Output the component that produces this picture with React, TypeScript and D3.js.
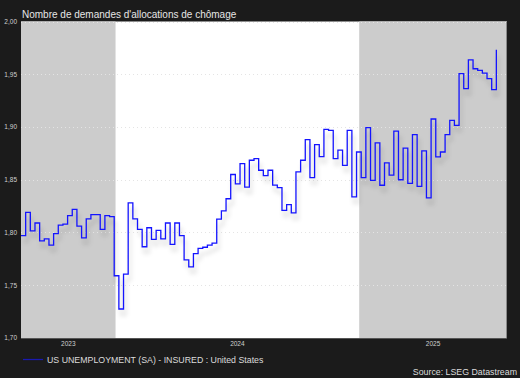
import React from "react";
import * as d3 from "d3";

const title = "Nombre de demandes d'allocations de chômage";
const legendLabel = "US UNEMPLOYMENT (SA) - INSURED : United States";
const sourceLabel = "Source: LSEG Datastream";

const startDate = "2023-08-12";
const domainStart = "2023-08-12";
const domainEnd = "2025-08-11";

// weekly values (millions), from the first week (Aug 2023) to the last (late Jul 2025)
const insuredClaims = [
  1.797, 1.819, 1.8015, 1.809, 1.792, 1.794, 1.788, 1.799, 1.807, 1.808,
  1.816, 1.822, 1.806, 1.795, 1.813, 1.817, 1.817, 1.803, 1.816, 1.815,
  1.759, 1.7275, 1.7605, 1.828, 1.813, 1.803, 1.7865, 1.8045, 1.7935, 1.802,
  1.794, 1.809, 1.7887, 1.809, 1.797, 1.774, 1.7675, 1.78, 1.785, 1.786,
  1.788, 1.79, 1.8126, 1.8205, 1.832, 1.855, 1.846, 1.8653, 1.843, 1.8685,
  1.87, 1.859, 1.854, 1.859, 1.845, 1.8426, 1.821, 1.8265, 1.8186, 1.8575,
  1.8685, 1.888, 1.852, 1.8833, 1.872, 1.8978, 1.8968, 1.87, 1.878, 1.8637,
  1.8968, 1.8337, 1.8763, 1.852, 1.8994, 1.8495, 1.885, 1.8448, 1.866, 1.8543,
  1.896, 1.85, 1.88, 1.8466, 1.8928, 1.8438, 1.8773, 1.8328, 1.9076, 1.8716,
  1.8763, 1.8928, 1.9063, 1.9016, 1.9505, 1.9363, 1.9637, 1.9552, 1.9536, 1.9511,
  1.9458, 1.9354, 1.9732,
];

const yTicks = [1.7, 1.75, 1.8, 1.85, 1.9, 1.95, 2.0];
const years = [2023, 2024, 2025];
const shadedYears = [2023, 2025];

const W = 520;
const H = 378;
const M = { left: 21, right: 507, top: 21.5, bottom: 338 };

const frLocale = d3.formatLocale({ decimal: ",", thousands: " ", grouping: [3], currency: ["", " €"] });
const fmt = frLocale.format(".2f");

export default function App() {
  const parse = d3.utcParse("%Y-%m-%d");
  const x = d3
    .scaleUtc()
    .domain([parse(domainStart)!, parse(domainEnd)!])
    .range([M.left, M.right]);
  const y = d3.scaleLinear().domain([1.7, 2.0]).range([M.bottom, M.top]);

  const start = parse(startDate)!;
  const data = insuredClaims.map((v, i) => ({ date: d3.utcDay.offset(start, 7 * i), v }));

  const line = d3
    .line<{ date: Date; v: number }>()
    .x((d) => x(d.date))
    .y((d) => y(d.v))
    .curve(d3.curveStepAfter);
  const path = line(data) || "";

  const yearBands = years.map((yr) => {
    const a = Math.max(M.left, x(new Date(Date.UTC(yr, 0, 1))));
    const b = Math.min(M.right, x(new Date(Date.UTC(yr + 1, 0, 1))));
    return { yr, a, b };
  });

  const font = "'Liberation Sans', Arial, Helvetica, sans-serif";

  return (
    <div style={{ position: "fixed", left: 0, top: 0, width: W, height: H }}>
      <svg width={W} height={H} style={{ display: "block" }}>
        <defs>
          <filter id="shadow" x="-10%" y="-10%" width="120%" height="130%">
            <feGaussianBlur stdDeviation="2" />
          </filter>
          <clipPath id="plotclip">
            <rect x={M.left} y={M.top} width={M.right - M.left} height={M.bottom - M.top} />
          </clipPath>
        </defs>
        <rect x={0} y={0} width={W} height={H} fill="#1b1b1b" />
        <rect x={M.left} y={M.top} width={M.right - M.left} height={M.bottom - M.top} fill="#ffffff" />
        {yearBands
          .filter((b) => shadedYears.includes(b.yr))
          .map((b) => (
            <rect key={b.yr} x={b.a} y={M.top} width={b.b - b.a} height={M.bottom - M.top} fill="#cccccc" />
          ))}
        {yTicks.map((t) => (
          <line
            key={t}
            x1={M.left}
            x2={M.right}
            y1={Math.round(y(t)) + 0.5}
            y2={Math.round(y(t)) + 0.5}
            stroke="#e4e4e4"
            strokeWidth={1}
            strokeDasharray="1,3"
          />
        ))}
        <line x1={M.right - 0.5} x2={M.right - 0.5} y1={M.top} y2={M.bottom} stroke="#8a8a8a" strokeWidth={1} />
        <line x1={M.left} x2={M.right} y1={M.bottom + 0.5} y2={M.bottom + 0.5} stroke="#555" strokeWidth={1} />
        <g clipPath="url(#plotclip)">
          <path
            d={path}
            fill="none"
            stroke="#000"
            strokeOpacity={0.12}
            strokeWidth={2}
            transform="translate(2,6)"
            filter="url(#shadow)"
          />
          <path d={path} fill="none" stroke="#1414ff" strokeWidth={1.3} strokeLinejoin="miter" />
        </g>
        {yTicks.map((t) => (
          <text
            key={t}
            x={17}
            y={y(t)}
            dy="0.35em"
            textAnchor="end"
            fontFamily={font}
            fontSize={6.5}
            fill="#cfcfcf"
          >
            {fmt(t)}
          </text>
        ))}
        {yearBands.map((b) => (
          <text
            key={b.yr}
            x={(b.a + b.b) / 2}
            y={346}
            textAnchor="middle"
            fontFamily={font}
            fontSize={6.5}
            fill="#cfcfcf"
          >
            {String(b.yr)}
          </text>
        ))}
        <text x={22} y={18} fontFamily={font} fontSize={10} fill="#e6e6e6">
          {title}
        </text>
        <line x1={23} x2={43} y1={359.5} y2={359.5} stroke="#1a1ab0" strokeWidth={1.3} />
        <text x={47} y={362.5} fontFamily={font} fontSize={8.8} fill="#dcdcdc">
          {legendLabel}
        </text>
        <text x={517} y={375} textAnchor="end" fontFamily={font} fontSize={8.8} fill="#dcdcdc">
          {sourceLabel}
        </text>
      </svg>
    </div>
  );
}
